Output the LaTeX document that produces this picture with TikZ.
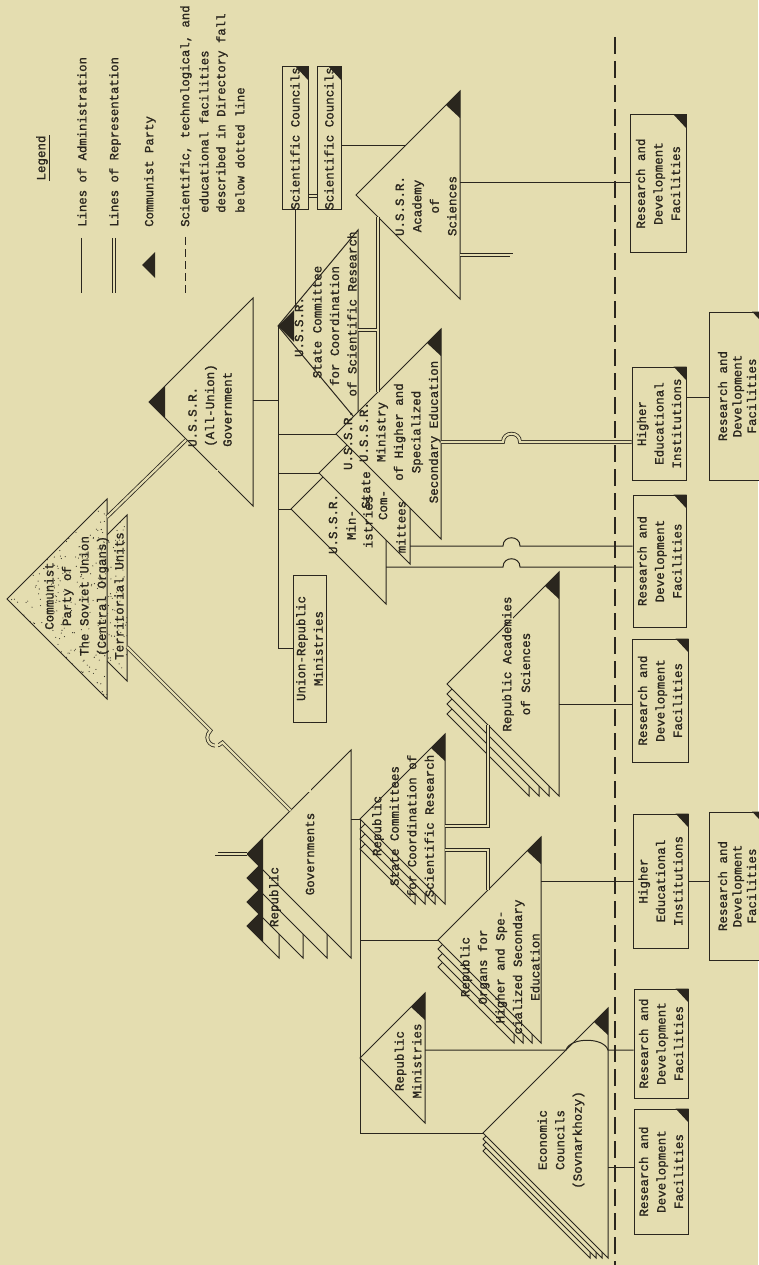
\documentclass[tikz,border=0pt]{standalone}
\usepackage{fontspec}
\newfontfamily\tw[FakeBold=1.3]{Liberation Mono}
\usetikzlibrary{calc}
\definecolor{bg}{RGB}{228,221,176}
\definecolor{ink}{RGB}{42,38,30}
\newcommand\mytri[5]{%
  \coordinate (#1-apex) at (#2,#3);
  \coordinate (#1-top) at ({#2+#4},{#3-#5});
  \coordinate (#1-bot) at ({#2+#4},{#3+#5});
  \filldraw[trif] (#1-apex) -- (#1-top) -- (#1-bot) -- cycle;}
\newcommand\cornerflag[1]{\fill[ink] (#1-top) -- ++(-14,14) -- ++(14,13) -- cycle;}
\newcommand\apexflag[1]{\fill[ink] (#1-apex) -- ++(16,-16) -- ++(0,32) -- cycle;}
\newcommand\boxflag[1]{\fill[ink] (#1.south east) -- ++(-13,0) -- ++(13,14) -- cycle;}
\newcommand\mystack[5]{%
  \foreach \k in {#5,...,1}{%
    \pgfmathsetmacro\hh{#3-#4*\k}%
    \pgfmathsetmacro\yy{#2+#4*\k}%
    \filldraw[trif] (#1,\yy) -- ++(\hh,-\hh) -- ++(0,2*\hh) -- cycle;}}
\begin{document}
\begin{tikzpicture}[x=1pt,y=-1pt,
  ln/.style={draw=ink,line width=1pt},
  dbl/.style={draw=ink,line width=0.8pt,double=bg,double distance=2.2pt},
  trif/.style={draw=ink,line width=1pt,fill=bg,line join=miter},
  lbl/.style={rotate=90,text=ink,font=\tw\fontsize{12.5}{17.5}\selectfont,align=center,inner sep=0pt},
  leg/.style={lbl,font=\tw\fontsize{12.3}{17.5}\selectfont,anchor=west},
  boxn/.style={rotate=90,draw=ink,line width=1pt,fill=bg,text=ink,font=\tw\fontsize{12.5}{17.5}\selectfont,align=center,inner sep=0pt},
  edgebox/.style={boxn,font=\tw\fontsize{12.5}{14.5}\selectfont}]
\fill[bg] (0,0) rectangle (758,1265);
\useasboundingbox (0,0) rectangle (758,1265);

% ---------------- legend
\node[lbl] (lg) at (43,158) {\underline{Legend}};
\coordinate (la1) at (81,238); \coordinate (la2) at (81,293);
\draw[ln] (la1) -- (la2);
\node[leg] (lat) at (82,227) {Lines of Administration};
\coordinate (lr1) at (114,238); \coordinate (lr2) at (114,293);
\draw[dbl] (lr1) -- (lr2);
\node[leg] (lrt) at (115,227) {Lines of Representation};
\coordinate (lp) at (142,265);
\fill[ink] (lp) -- ++(13,-13) -- ++(0,26) -- cycle;
\node[leg] (lpt) at (150,227) {Communist Party};
\coordinate (ld1) at (185,237); \coordinate (ld2) at (185,293);
\draw[ln,dash pattern=on 8pt off 4pt] (ld1) -- (ld2);
\node[leg] (ldt1) at (186,227) {Scientific, technological, and};
\node[leg] (ldt2) at (204,213) {educational facilities};
\node[leg] (ldt3) at (222,213) {described in Directory fall};
\node[leg] (ldt4) at (240,213) {below dotted line};

% ---------------- dividing dashed line
\coordinate (dl1) at (615,37); \coordinate (dl2) at (615,1265);
\draw[ink,line width=1.1pt,dash pattern=on 17pt off 7pt] (dl1) -- (dl2);

% ---------------- boxes
\node[boxn,minimum width=137pt,minimum height=56pt] (A) at (658,183.5) {Research and\\Development\\Facilities};
\node[boxn,minimum width=113pt,minimum height=54pt] (B) at (659,423.5) {Higher\\Educational\\Institutions};
\node[edgebox,minimum width=168pt,minimum height=55pt] (C) at (737,396) {Research and\\Development\\Facilities};
\node[boxn,minimum width=132pt,minimum height=53pt] (D) at (659.5,561) {Research and\\Development\\Facilities};
\node[boxn,minimum width=123pt,minimum height=56pt] (E) at (660,700.5) {Research and\\Development\\Facilities};
\node[boxn,minimum width=134pt,minimum height=55pt] (F) at (660.5,881) {Higher\\Educational\\Institutions};
\node[edgebox,minimum width=148pt,minimum height=55pt] (G) at (737,886) {Research and\\Development\\Facilities};
\node[boxn,minimum width=109pt,minimum height=54pt] (H) at (661,1043.5) {Research and\\Development\\Facilities};
\node[boxn,minimum width=125pt,minimum height=54pt] (I) at (661,1171.5) {Research and\\Development\\Facilities};
\node[boxn,minimum width=147pt,minimum height=33pt] (U) at (309.5,648.5) {Union-Republic\\Ministries};
\node[boxn,minimum width=143pt,minimum height=26pt] (S1) at (295,138.5) {Scientific Councils};
\node[boxn,minimum width=143pt,minimum height=24pt] (S2) at (329,138.5) {Scientific Councils};
\foreach \b in {A,B,C,D,E,F,G,H,I,S1,S2} {\boxflag{\b}}

% ---------------- party
\pgfmathsetseed{3}
\mytri{pb}{44}{598}{83}{83}
\begin{scope}
\clip (pb-apex) -- (pb-top) -- (pb-bot) -- cycle;
\foreach \i in {1,...,260} {\fill[ink] ({44+83*rnd},{515+166*rnd}) circle[radius=0.55pt];}
\end{scope}
\mytri{pf}{7}{599}{100}{100}
\begin{scope}
\clip (pf-apex) -- (pf-top) -- (pf-bot) -- cycle;
\foreach \i in {1,...,420} {\fill[ink] ({7+100*rnd},{499+200*rnd}) circle[radius=0.55pt];}
\end{scope}

% ---------------- USSR level
\mytri{gov}{149}{402}{104}{104} \apexflag{gov}
\mytri{acad}{356}{195}{104}{104} \cornerflag{acad}
\mytri{scc}{278}{326}{80}{96} \apexflag{scc}
\mytri{umin}{291}{509}{95}{95}
\mytri{usc}{319}{473}{91}{91}
\mytri{uhe}{336}{434}{105}{105} \cornerflag{uhe}

% ---------------- republic level
\foreach \k in {3,2,1}{%
  \pgfmathsetmacro\hh{104-24*\k}%
  \pgfmathsetmacro\yy{854+24*\k}%
  \filldraw[trif] (247,\yy) -- ++(\hh,-\hh) -- ++(0,2*\hh) -- cycle;
  \fill[ink] (247,\yy) -- ++(16,-16) -- ++(0,32) -- cycle;}
\mytri{rg}{247}{854}{104}{104} \apexflag{rg}
\mystack{360}{819}{85}{10}{3}
\mytri{rsc}{360}{819}{85}{85} \cornerflag{rsc}
\mystack{447}{684}{112}{10}{3}
\mytri{ra}{447}{684}{112}{112} \cornerflag{ra}
\mystack{438}{940}{103}{9}{3}
\mytri{ro}{438}{940}{103}{103} \cornerflag{ro}
\mytri{rm}{360}{1058}{65}{65} \cornerflag{rm}
\mystack{483}{1133}{125}{6}{3}
\mytri{ec}{483}{1133}{125}{125} \cornerflag{ec}

% ---------------- connectors
\coordinate (c1a) at (107,517); \coordinate (c1b) at (186,440);
\draw[dbl] (c1a) -- (c1b);
\coordinate (c2a) at (127,647); \coordinate (c2h1) at (210.5,730.5);
\coordinate (c2h2) at (222.5,742.5); \coordinate (c2b) at (290.5,810.5);
\draw[dbl] (c2a) -- (c2h1) .. controls (201.5,739.5) and (213.5,751.5) .. (c2h2) -- (c2b);
\coordinate (c3a) at (216.5,469.5);
\draw[dbl] (c3a) |- (rg-apex);
\coordinate (gr) at (253,400); \coordinate (bt) at (278,400);
\draw[ln] (gr) -- (bt);
\coordinate (bus1) at (278,648.5);
\draw[ln] (scc-apex) -- (bus1);
\coordinate (b1) at (278,434); \coordinate (b2) at (278,473); \coordinate (b3) at (278,509);
\draw[ln] (b1) -- (uhe-apex);
\draw[ln] (b2) -- (usc-apex);
\draw[ln] (b3) -- (umin-apex);
\draw[ln] (bus1) -- (U.north);
\coordinate (c4b) at (309.5,791.5);
\draw[dbl] (U.west) -- (c4b);
\coordinate (c5b) at (295,305.6);
\draw[ln] (S1.west) -- (c5b);
\coordinate (c6) at (0,196);
\draw[dbl] (S1.south |- c6) -- (S2.north |- c6);
\coordinate (c7b) at (405,146);
\draw[ln] (S2.south |- c7b) -- (c7b);
\coordinate (c8a) at (378,217); \coordinate (c8b) at (378,392);
\draw[dbl] (c8a) -- (c8b);
\coordinate (c9a) at (358,330); \coordinate (c9b) at (377,330);
\draw[dbl] (c9a) -- (c9b);
\coordinate (c10a) at (460,183);
\draw[ln] (c10a) -- (c10a -| A.north);
\coordinate (c11a) at (460,255); \coordinate (c11b) at (511.5,619.5);
\draw[dbl] (c11a) -| (c11b);
\coordinate (c12a) at (441,442);
\draw[dbl] (c12a) -- (503,442) .. controls (503,431) and (520,431) .. (520,442) -- (c12a -| B.north);
\coordinate (c13a) at (410,546);
\draw[ln] (c13a) -- (503,546) .. controls (503,535) and (520,535) .. (520,546) -- (c13a -| D.north);
\coordinate (c14a) at (386,567);
\draw[ln] (c14a) -- (503,567) .. controls (503,556) and (520,556) .. (520,567) -- (c14a -| D.north);
\coordinate (c15) at (0,397);
\draw[ln] (B.south |- c15) -- (C.north |- c15);
\coordinate (c16a) at (351,819);
\draw[ln] (c16a) -- (rsc-apex);
\coordinate (bus2) at (360,1133);
\draw[ln] (rsc-apex) -- (bus2);
\draw[ln] (bus2) -- (ec-apex);
\coordinate (b4) at (360,940);
\draw[ln] (b4) -- (ro-apex);
\coordinate (c17a) at (445,826); \coordinate (c17b) at (488,725);
\draw[dbl] (c17a) -| (c17b);
\coordinate (c18a) at (445,850); \coordinate (c18b) at (488,890);
\draw[dbl] (c18a) -| (c18b);
\coordinate (c19a) at (559,704);
\draw[ln] (c19a) -- (c19a -| E.north);
\coordinate (c20a) at (541,881);
\draw[ln] (c20a) -- (c20a -| F.north);
\draw[ln] (F.south |- c20a) -- (G.north |- c20a);
\coordinate (c21a) at (425,1050);
\draw[ln] (c21a) -- (566,1050) .. controls (570,1037) and (604,1037) .. (608,1050) -- (c21a -| H.north);
\coordinate (c22a) at (608,1167);
\draw[ln] (c22a) -- (c22a -| I.north);

% ---------------- labels
\node[lbl] (tparty) at (84,596) {Communist\\Party of\\The Soviet Union\\(Central Organs)\\Territorial Units};
\node[lbl,anchor=west,align=left] (tgov) at (210,447) {U.S.S.R.\\(All-Union)\\Government};
\node[lbl] (tacad) at (426,206) {U.S.S.R.\\Academy\\of\\Sciences};
\node[lbl] (tscc1) at (299,327) {U.S.S.R.};
\node[lbl] (tscc2) at (317,322) {State Committee};
\node[lbl] (tscc3) at (334.5,326) {for Coordination};
\node[lbl] (tscc4) at (352,314) {of Scientific Research};
\node[lbl] (the) at (400,432) {U.S.S.R.\\Ministry\\of Higher and\\Specialized\\Secondary Education};
\node[lbl] (tsc1) at (348,440) {U.S.S.R.};
\node[lbl] (tsc2) at (366,490) {State};
\node[lbl] (tsc3) at (383,505) {Com-};
\node[lbl] (tsc4) at (401,527) {mittees};
\node[lbl] (tmi1) at (333,524) {U.S.S.R.};
\node[lbl] (tmi2) at (351,525) {Min-};
\node[lbl] (tmi3) at (368,522) {istries};
\node[lbl] (trg1) at (275,897) {Republic};
\node[lbl] (trg2) at (310,854) {Governments};
\node[lbl] (trsc) at (403,826) {Republic\\State Committees\\for Coordination of\\Scientific Research};
\node[lbl] (tra1) at (508,664) {Republic Academies};
\node[lbl] (tra2) at (525.5,674) {of Sciences};
\node[lbl] (tro) at (500,967) {Republic\\Organs for\\Higher and Spe-\\cialized Secondary\\Education};
\node[lbl] (trm) at (408,1061) {Republic\\Ministries};
\node[lbl] (tec) at (561,1140) {Economic\\Councils\\(Sovnarkhozy)};
\end{tikzpicture}
\end{document}
